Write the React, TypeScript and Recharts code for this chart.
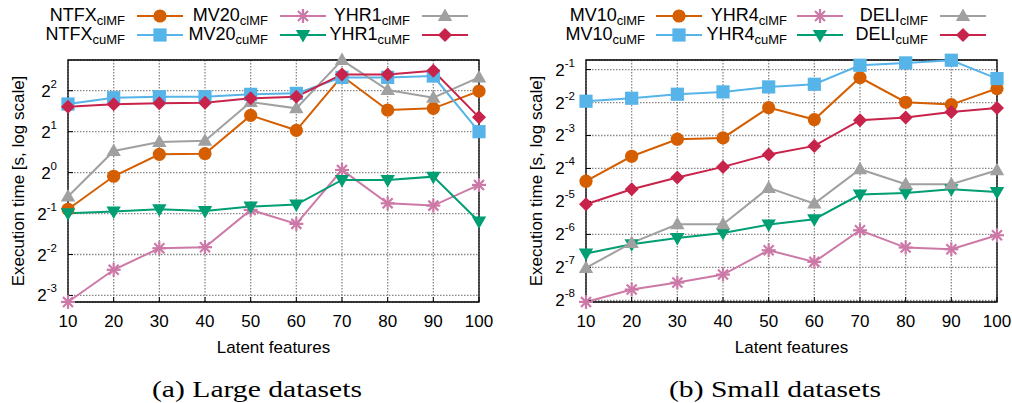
import React from 'react';
import { LineChart, Line, XAxis, YAxis, CartesianGrid, ReferenceArea } from 'recharts';

const FONT = '"Liberation Sans", Arial, Helvetica, sans-serif';
const SERIF = '"Liberation Serif", "DejaVu Serif", serif';

const features = [10, 20, 30, 40, 50, 60, 70, 80, 90, 100];

// (a) Large datasets — execution time in seconds
const ntfxClmf = [0.538, 0.94, 1.363, 1.378, 2.635, 2.046, 5.127, 2.884, 2.967, 3.972];
const ntfxCumf = [3.193, 3.553, 3.615, 3.615, 3.761, 3.824, 5.011, 5.011, 5.127, 2.0];
const mv20Clmf = [0.112, 0.193, 0.278, 0.283, 0.532, 0.42, 1.046, 0.595, 0.572, 0.812];
const mv20Cumf = [0.503, 0.517, 0.538, 0.523, 0.563, 0.582, 0.883, 0.883, 0.934, 0.437];
const yhr1Clmf = [0.667, 1.442, 1.68, 1.717, 3.304, 2.967, 6.718, 4.045, 3.553, 5.011];
const yhr1Cumf = [3.053, 3.176, 3.229, 3.265, 3.514, 3.615, 5.271, 5.271, 5.61, 2.549];

// (b) Small datasets — execution time in seconds
const mv10Clmf = [0.0478, 0.0808, 0.1156, 0.1188, 0.2248, 0.1747, 0.4226, 0.2516, 0.2395, 0.3353];
const mv10Cumf = [0.2569, 0.2736, 0.2977, 0.3127, 0.3471, 0.3671, 0.5476, 0.5751, 0.6083, 0.4138];
const yhr4Clmf = [0.00378, 0.0049, 0.00568, 0.00672, 0.0112, 0.00877, 0.01705, 0.01185, 0.01144, 0.01536];
const yhr4Cumf = [0.01045, 0.01271, 0.01452, 0.01613, 0.01921, 0.02149, 0.0361, 0.03739, 0.04039, 0.03818];
const deliClmf = [0.00773, 0.01307, 0.01935, 0.01935, 0.04152, 0.02988, 0.06151, 0.04487, 0.04487, 0.06021];
const deliCumf = [0.02946, 0.04039, 0.05161, 0.06461, 0.08373, 0.1005, 0.1723, 0.1823, 0.2053, 0.2233];

const largeTicks = [0.125, 0.25, 0.5, 1, 2, 4];
const smallTicks = [0.00390625, 0.0078125, 0.015625, 0.03125, 0.0625, 0.125, 0.25, 0.5];
const largeDomain = [0.1119, 6.727];
const smallDomain = [0.003773, 0.6113];

const C_ORANGE = '#D55E00';
const C_BLUE = '#56B4E9';
const C_PINK = '#CC79A7';
const C_GREEN = '#009E73';
const C_GRAY = '#A0A0A0';
const C_RED = '#C8234A';

type Shape = 'circle' | 'square' | 'star' | 'tri' | 'triDown' | 'diamond';
type Series = { key: string; name: string; sub: string; color: string; shape: Shape; values: number[] };

const largeSeries: Series[] = [
  { key: 'ntfxCl', name: 'NTFX', sub: 'clMF', color: C_ORANGE, shape: 'circle', values: ntfxClmf },
  { key: 'ntfxCu', name: 'NTFX', sub: 'cuMF', color: C_BLUE, shape: 'square', values: ntfxCumf },
  { key: 'mv20Cl', name: 'MV20', sub: 'clMF', color: C_PINK, shape: 'star', values: mv20Clmf },
  { key: 'mv20Cu', name: 'MV20', sub: 'cuMF', color: C_GREEN, shape: 'triDown', values: mv20Cumf },
  { key: 'yhr1Cl', name: 'YHR1', sub: 'clMF', color: C_GRAY, shape: 'tri', values: yhr1Clmf },
  { key: 'yhr1Cu', name: 'YHR1', sub: 'cuMF', color: C_RED, shape: 'diamond', values: yhr1Cumf },
];

const smallSeries: Series[] = [
  { key: 'mv10Cl', name: 'MV10', sub: 'clMF', color: C_ORANGE, shape: 'circle', values: mv10Clmf },
  { key: 'mv10Cu', name: 'MV10', sub: 'cuMF', color: C_BLUE, shape: 'square', values: mv10Cumf },
  { key: 'yhr4Cl', name: 'YHR4', sub: 'clMF', color: C_PINK, shape: 'star', values: yhr4Clmf },
  { key: 'yhr4Cu', name: 'YHR4', sub: 'cuMF', color: C_GREEN, shape: 'triDown', values: yhr4Cumf },
  { key: 'deliCl', name: 'DELI', sub: 'clMF', color: C_GRAY, shape: 'tri', values: deliClmf },
  { key: 'deliCu', name: 'DELI', sub: 'cuMF', color: C_RED, shape: 'diamond', values: deliCumf },
];

const buildRows = (series: Series[]) =>
  features.map((f, i) => {
    const row: Record<string, number> = { f };
    series.forEach((s) => {
      row[s.key] = s.values[i];
    });
    return row;
  });

function Marker({ shape, cx, cy, color }: { shape: Shape; cx: number; cy: number; color: string }) {
  switch (shape) {
    case 'circle':
      return <circle cx={cx} cy={cy} r={6.6} fill={color} />;
    case 'square':
      return <rect x={cx - 6.6} y={cy - 6.6} width={13.2} height={13.2} fill={color} />;
    case 'diamond':
      return <polygon points={`${cx},${cy - 7} ${cx + 7},${cy} ${cx},${cy + 7} ${cx - 7},${cy}`} fill={color} />;
    case 'tri':
      return <polygon points={`${cx},${cy - 7.5} ${cx + 7.2},${cy + 5} ${cx - 7.2},${cy + 5}`} fill={color} />;
    case 'triDown':
      return <polygon points={`${cx},${cy + 7.5} ${cx + 7.2},${cy - 5} ${cx - 7.2},${cy - 5}`} fill={color} />;
    case 'star': {
      const a = 7;
      const d = 5;
      return (
        <g stroke={color} strokeWidth={2.2}>
          <line x1={cx - a} y1={cy} x2={cx + a} y2={cy} />
          <line x1={cx} y1={cy - a} x2={cx} y2={cy + a} />
          <line x1={cx - d} y1={cy - d} x2={cx + d} y2={cy + d} />
          <line x1={cx - d} y1={cy + d} x2={cx + d} y2={cy - d} />
        </g>
      );
    }
  }
  return null;
}

const makeDot = (s: Series) => (props: any) => {
  const { cx, cy, index } = props;
  if (cx == null || cy == null) return <g key={`${s.key}-${index}`} />;
  return (
    <g key={`${s.key}-${index}`}>
      <Marker shape={s.shape} cx={cx} cy={cy} color={s.color} />
    </g>
  );
};

const PLOT_TOP = 60;
const PLOT_BOTTOM = 302;

const makeXTick = () => (props: any) => {
  const { x, payload } = props;
  return (
    <text x={x} y={PLOT_BOTTOM + 25} textAnchor="middle" fontSize={17} fontFamily={FONT} fill="#000">
      {payload.value}
    </text>
  );
};

const makeYTick = (plotLeft: number) => (props: any) => {
  const { y, payload } = props;
  const e = Math.round(Math.log2(payload.value));
  return (
    <text x={plotLeft - 11} y={y + 6} textAnchor="end" fontSize={17} fontFamily={FONT} fill="#000">
      <tspan>2</tspan>
      <tspan dy={-9} fontSize={11.5}>{e}</tspan>
    </text>
  );
};

function Panel({
  series,
  domain,
  ticks,
  width,
  yWidth,
  marginRight,
}: {
  series: Series[];
  domain: number[];
  ticks: number[];
  width: number;
  yWidth: number;
  marginRight: number;
}) {
  const rows = buildRows(series);
  return (
    <LineChart
      width={width}
      height={403}
      data={rows}
      margin={{ top: PLOT_TOP, right: marginRight, bottom: 403 - PLOT_BOTTOM - 30, left: 0 }}
    >
      <CartesianGrid stroke="#888" strokeDasharray="1.5 1.5" strokeWidth={1.3} />
      <XAxis
        dataKey="f"
        type="number"
        domain={[10, 100]}
        ticks={features}
        height={30}
        axisLine={false}
        tickSize={-5}
        tickMargin={0}
        tickLine={{ stroke: '#000' }}
        tick={makeXTick()}
        interval={0}
      />
      <XAxis
        xAxisId="top"
        orientation="top"
        dataKey="f"
        type="number"
        domain={[10, 100]}
        ticks={features}
        height={0}
        axisLine={false}
        tickSize={-5}
        tickLine={{ stroke: '#000' }}
        tick={false}
        interval={0}
      />
      <YAxis
        type="number"
        scale="log"
        domain={domain}
        ticks={ticks}
        width={yWidth}
        axisLine={false}
        tickSize={-5}
        tickMargin={0}
        tickLine={{ stroke: '#000' }}
        tick={makeYTick(yWidth)}
        interval={0}
      />
      <YAxis
        yAxisId="right"
        orientation="right"
        type="number"
        scale="log"
        domain={domain}
        ticks={ticks}
        width={0}
        axisLine={false}
        tickSize={-5}
        tickLine={{ stroke: '#000' }}
        tick={false}
        interval={0}
      />
      <ReferenceArea
        x1={10}
        x2={100}
        y1={domain[0]}
        y2={domain[1]}
        fill="none"
        fillOpacity={0}
        stroke="#000"
        strokeWidth={1.3}
      />
      {series.map((s) => (
        <Line
          key={s.key}
          dataKey={s.key}
          stroke={s.color}
          strokeWidth={2}
          type="linear"
          dot={makeDot(s)}
          activeDot={false}
          isAnimationActive={false}
        />
      ))}
    </LineChart>
  );
}

function LegendBlock({
  series,
  textEnds,
  sampleStarts,
}: {
  series: Series[];
  textEnds: number[];
  sampleStarts: number[];
}) {
  const rowLine = [16, 35];
  const rowBase = [20.7, 39.5];
  return (
    <g>
      {series.map((s, i) => {
        const col = Math.floor(i / 2);
        const row = i % 2;
        const sx = sampleStarts[col];
        return (
          <g key={s.key}>
            <text x={textEnds[col]} y={rowBase[row]} textAnchor="end" fontSize={18} fontFamily={FONT} fill="#000">
              {s.name}
              <tspan fontSize={13} dy={4.5}>{s.sub}</tspan>
            </text>
            <line x1={sx} x2={sx + 46} y1={rowLine[row]} y2={rowLine[row]} stroke={s.color} strokeWidth={2} />
            <Marker shape={s.shape} cx={sx + 23} cy={rowLine[row]} color={s.color} />
          </g>
        );
      })}
    </g>
  );
}

export default function App() {
  return (
    <div style={{ position: 'absolute', left: 0, top: 0, width: 1012, height: 403, background: '#fff', fontFamily: FONT }}>
      <div style={{ position: 'absolute', left: 0, top: 0 }}>
        <Panel series={largeSeries} domain={largeDomain} ticks={largeTicks} width={500} yWidth={68} marginRight={21} />
      </div>
      <div style={{ position: 'absolute', left: 500, top: 0 }}>
        <Panel series={smallSeries} domain={smallDomain} ticks={smallTicks} width={512} yWidth={86} marginRight={15} />
      </div>
      <svg
        width={1012}
        height={403}
        style={{ position: 'absolute', left: 0, top: 0, pointerEvents: 'none' }}
      >
        <LegendBlock series={largeSeries} textEnds={[125, 268, 410]} sampleStarts={[137, 280, 422]} />
        <LegendBlock series={smallSeries} textEnds={[645, 787, 928]} sampleStarts={[656, 797, 940]} />
        <text
          transform="translate(23.5,181) rotate(-90)"
          textAnchor="middle"
          fontSize={17}
          fontFamily={FONT}
          fill="#000"
        >
          Execution time [s, log scale]
        </text>
        <text
          transform="translate(542,181) rotate(-90)"
          textAnchor="middle"
          fontSize={17}
          fontFamily={FONT}
          fill="#000"
        >
          Execution time [s, log scale]
        </text>
        <text x={273.5} y={353} textAnchor="middle" fontSize={17} fontFamily={FONT} fill="#000">
          Latent features
        </text>
        <text x={791.5} y={353} textAnchor="middle" fontSize={17} fontFamily={FONT} fill="#000">
          Latent features
        </text>
        <text
          x={152}
          y={397}
          fontSize={24}
          fontFamily={SERIF}
          fill="#000"
          textLength={210}
          lengthAdjust="spacingAndGlyphs"
        >
          (a) Large datasets
        </text>
        <text
          x={669}
          y={397}
          fontSize={24}
          fontFamily={SERIF}
          fill="#000"
          textLength={212}
          lengthAdjust="spacingAndGlyphs"
        >
          (b) Small datasets
        </text>
      </svg>
    </div>
  );
}
